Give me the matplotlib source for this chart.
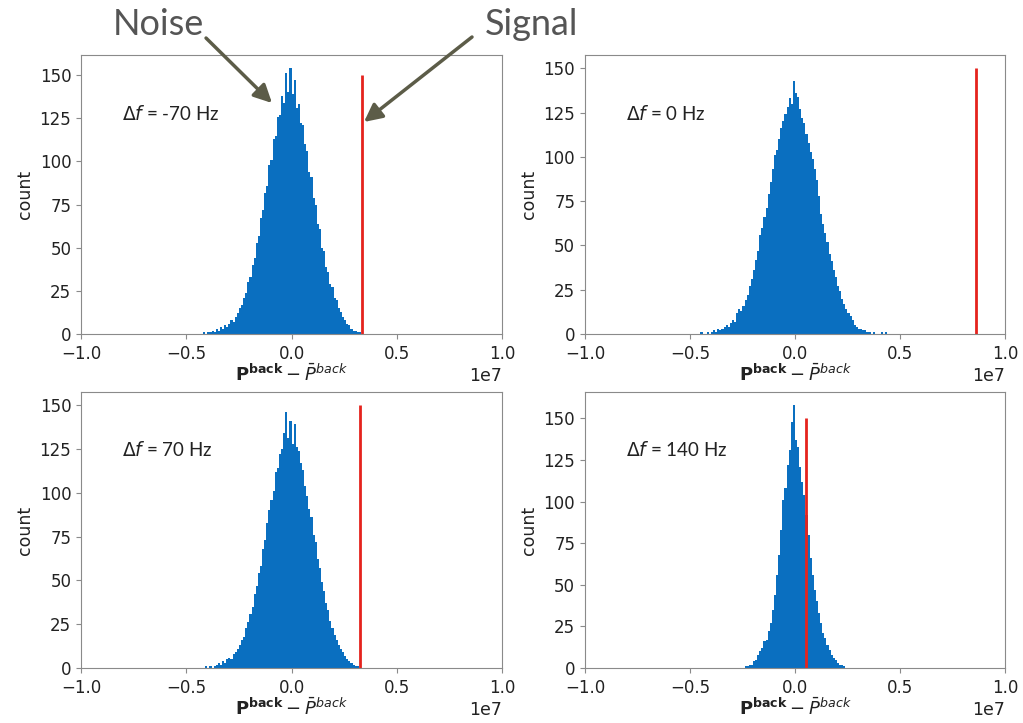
import numpy as np
import matplotlib
matplotlib.use('Agg')
import matplotlib.pyplot as plt

# histogram counts, bins 1e5 wide, first bin starts at bin_start
bin_start = -4.5e6
bin_width = 1e5

counts_m70 = [0, 0, 0, 1, 0, 1, 1, 2, 1, 3,
              2, 4, 3, 5, 4, 6, 8, 7, 10, 12,
              15, 17, 21, 24, 30, 33, 40, 44, 53, 57,
              67, 72, 82, 86, 98, 101, 113, 115, 126, 127,
              138, 134, 151, 140, 154, 139, 147, 131, 133, 122,
              121, 110, 106, 94, 91, 79, 75, 64, 61, 50,
              48, 39, 36, 29, 27, 21, 20, 15, 13, 10,
              8, 6, 5, 3, 2, 2, 1, 1, 0, 0,
              0, 0, 0, 0, 0, 0, 0, 0, 0, 0]

counts_0 = [1, 0, 0, 1, 0, 1, 2, 1, 3, 2,
            3, 4, 5, 4, 6, 8, 7, 12, 14, 13,
            16, 19, 22, 27, 31, 36, 42, 47, 56, 60,
            66, 71, 79, 86, 93, 101, 104, 110, 116, 120,
            124, 128, 133, 130, 143, 136, 134, 127, 122, 119,
            113, 108, 103, 99, 93, 87, 78, 68, 62, 57,
            52, 45, 41, 36, 32, 27, 24, 20, 17, 14,
            12, 10, 8, 5, 4, 3, 3, 2, 2, 1,
            1, 0, 1, 0, 0, 0, 1, 0, 1, 0]

counts_70 = [0, 0, 0, 0, 1, 0, 1, 0, 1, 2,
             3, 2, 4, 3, 5, 6, 5, 8, 9, 11,
             13, 16, 18, 23, 26, 31, 35, 42, 47, 54,
             58, 68, 73, 83, 90, 96, 101, 112, 114, 122,
             125, 134, 146, 131, 141, 128, 139, 126, 124, 117,
             113, 104, 98, 91, 86, 76, 72, 62, 57, 49,
             44, 37, 33, 27, 23, 19, 16, 13, 11, 9,
             7, 5, 4, 3, 2, 1, 1, 0, 0, 0,
             0, 0, 0, 0, 0, 0, 0, 0, 0, 0]

bin_start_140 = -2.5e6
counts_140 = [0, 1, 1, 2, 2, 4, 5, 8, 10, 12,
              16, 17, 22, 27, 35, 44, 56, 68, 83, 101,
              108, 122, 131, 148, 158, 137, 133, 121, 112, 104,
              92, 80, 66, 56, 47, 40, 33, 27, 21, 18,
              14, 11, 8, 6, 5, 3, 2, 2, 1, 0]

labels = [r'$\Delta f$ = -70 Hz', r'$\Delta f$ = 0 Hz',
          r'$\Delta f$ = 70 Hz', r'$\Delta f$ = 140 Hz']
signal = [3.35e6, 8.62e6, 3.25e6, 0.52e6]
signal_height = 150

panels = [(counts_m70, bin_start), (counts_0, bin_start),
          (counts_70, bin_start), (counts_140, bin_start_140)]

blue = '#0a6fc0'
red = '#e5231d'
spine = '#8a8a8a'

fig = plt.figure(figsize=(10.23, 7.23), dpi=100)
rects = [[0.0792, 0.5380, 0.4115, 0.3860],
         [0.5718, 0.5380, 0.4106, 0.3860],
         [0.0792, 0.0760, 0.4115, 0.3818],
         [0.5718, 0.0760, 0.4106, 0.3818]]

for rect, (counts, start), lab, sig in zip(rects, panels, labels, signal):
    ax = fig.add_axes(rect)
    counts = np.array(counts)
    edges = start + bin_width * np.arange(len(counts) + 1)
    ax.stairs(counts, edges, fill=True, color=blue, linewidth=0)
    ax.vlines(sig, 0, signal_height, color=red, linewidth=2)
    ax.set_xlim(-1e7, 1e7)
    ax.set_ylim(0, 1.05 * max(counts.max(), signal_height))
    ax.set_xticks([-1e7, -5e6, 0, 5e6, 1e7])
    ax.set_yticks([0, 25, 50, 75, 100, 125, 150])
    ax.tick_params(labelsize=12, color=spine, labelcolor='#222222')
    ax.tick_params(axis='x', pad=4.5)
    ax.xaxis.get_offset_text().set_fontsize(12.5)
    for s in ax.spines.values():
        s.set_color(spine)
    ax.set_ylabel('count', fontsize=12.5, color='#222222')
    ax.set_xlabel(r'$\mathbf{P^{back}} - \bar{P}^{back}$', fontsize=13, color='#222222',
                  labelpad=0)
    ax.text(0.097, 0.79, lab, transform=ax.transAxes, fontsize=13.5, color='#222222',
            family='Lato', va='center')

arrow = dict(arrowstyle='-|>,head_length=0.9,head_width=0.45', color='#5c5c48', lw=2.5,
             shrinkA=0, shrinkB=0)
fig.text(0.1545, 0.966, 'Noise', fontsize=26, color='#555555', family='Lato',
         ha='center', va='center')
fig.text(0.52, 0.966, 'Signal', fontsize=26, color='#555555', family='Lato',
         ha='center', va='center')
fig.add_artist(matplotlib.patches.FancyArrowPatch((0.2014, 0.9474), (0.2659, 0.8575),
                                                  transform=fig.transFigure, mutation_scale=12, **arrow))
fig.add_artist(matplotlib.patches.FancyArrowPatch((0.4614, 0.9488), (0.3558, 0.8313),
                                                  transform=fig.transFigure, mutation_scale=12, **arrow))

fig.savefig('out.png', dpi=100)
